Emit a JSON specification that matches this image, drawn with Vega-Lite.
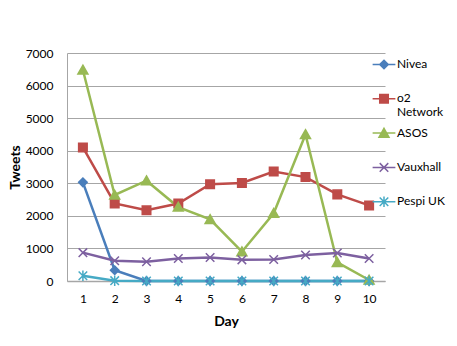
{
  "$schema": "https://vega.github.io/schema/vega-lite/v6.json",
  "width": 318,
  "height": 228,
  "autosize": "none",
  "padding": {"left": 67, "top": 53, "right": 72, "bottom": 65},
  "background": "white",
  "config": {
    "font": "Lato",
    "view": {"stroke": null},
    "axis": {"labelFont": "Lato", "titleFont": "Lato", "labelColor": "black", "titleColor": "black", "labelFontSize": 12, "titleFontSize": 14, "titleFontWeight": "bold"},
    "legend": {"title": null, "orient": "none", "legendX": 311, "legendY": 0, "labelFont": "Lato", "labelFontSize": 12, "labelColor": "black", "symbolSize": 90, "symbolStrokeWidth": 1.5, "labelOffset": 7, "rowPadding": 3.3, "padding": 0, "gridAlign": "all", "labelBaseline": "top"}
  },
  "data": {
    "values": [
      {"day": 1, "brand": "Nivea", "tweets": 3030},
      {"day": 2, "brand": "Nivea", "tweets": 330},
      {"day": 3, "brand": "Nivea", "tweets": 0},
      {"day": 4, "brand": "Nivea", "tweets": 0},
      {"day": 5, "brand": "Nivea", "tweets": 0},
      {"day": 6, "brand": "Nivea", "tweets": 0},
      {"day": 7, "brand": "Nivea", "tweets": 0},
      {"day": 8, "brand": "Nivea", "tweets": 0},
      {"day": 9, "brand": "Nivea", "tweets": 0},
      {"day": 10, "brand": "Nivea", "tweets": 0},
      {"day": 1, "brand": "o2 Network", "tweets": 4100},
      {"day": 2, "brand": "o2 Network", "tweets": 2380},
      {"day": 3, "brand": "o2 Network", "tweets": 2170},
      {"day": 4, "brand": "o2 Network", "tweets": 2380},
      {"day": 5, "brand": "o2 Network", "tweets": 2970},
      {"day": 6, "brand": "o2 Network", "tweets": 3010},
      {"day": 7, "brand": "o2 Network", "tweets": 3360},
      {"day": 8, "brand": "o2 Network", "tweets": 3190},
      {"day": 9, "brand": "o2 Network", "tweets": 2660},
      {"day": 10, "brand": "o2 Network", "tweets": 2320},
      {"day": 1, "brand": "ASOS", "tweets": 6480},
      {"day": 2, "brand": "ASOS", "tweets": 2640},
      {"day": 3, "brand": "ASOS", "tweets": 3080},
      {"day": 4, "brand": "ASOS", "tweets": 2270},
      {"day": 5, "brand": "ASOS", "tweets": 1890},
      {"day": 6, "brand": "ASOS", "tweets": 900},
      {"day": 7, "brand": "ASOS", "tweets": 2080},
      {"day": 8, "brand": "ASOS", "tweets": 4500},
      {"day": 9, "brand": "ASOS", "tweets": 570},
      {"day": 10, "brand": "ASOS", "tweets": 30},
      {"day": 1, "brand": "Vauxhall", "tweets": 870},
      {"day": 2, "brand": "Vauxhall", "tweets": 620},
      {"day": 3, "brand": "Vauxhall", "tweets": 590},
      {"day": 4, "brand": "Vauxhall", "tweets": 690},
      {"day": 5, "brand": "Vauxhall", "tweets": 720},
      {"day": 6, "brand": "Vauxhall", "tweets": 650},
      {"day": 7, "brand": "Vauxhall", "tweets": 660},
      {"day": 8, "brand": "Vauxhall", "tweets": 800},
      {"day": 9, "brand": "Vauxhall", "tweets": 860},
      {"day": 10, "brand": "Vauxhall", "tweets": 690},
      {"day": 1, "brand": "Pespi UK", "tweets": 160},
      {"day": 2, "brand": "Pespi UK", "tweets": 10},
      {"day": 3, "brand": "Pespi UK", "tweets": 0},
      {"day": 4, "brand": "Pespi UK", "tweets": 0},
      {"day": 5, "brand": "Pespi UK", "tweets": 0},
      {"day": 6, "brand": "Pespi UK", "tweets": 0},
      {"day": 7, "brand": "Pespi UK", "tweets": 0},
      {"day": 8, "brand": "Pespi UK", "tweets": 0},
      {"day": 9, "brand": "Pespi UK", "tweets": 0},
      {"day": 10, "brand": "Pespi UK", "tweets": 0}
    ]
  },
  "encoding": {
    "x": {
      "field": "day", "type": "ordinal", "title": "Day",
      "scale": {"type": "point", "padding": 0.5},
      "axis": {"labelAngle": 0, "ticks": false, "domainColor": "#a6a6a6", "domainWidth": 1.5, "labelPadding": 12, "titlePadding": 10}
    },
    "y": {
      "field": "tweets", "type": "quantitative", "title": "Tweets",
      "scale": {"domain": [0, 7000], "nice": false},
      "axis": {"values": [0, 1000, 2000, 3000, 4000, 5000, 6000, 7000], "format": "d", "ticks": false, "grid": true, "gridColor": "#a6a6a6", "gridWidth": 1, "domainColor": "#a6a6a6", "labelPadding": 14, "titlePadding": 3}
    }
  },
  "layer": [
    {
      "mark": {"type": "line", "strokeWidth": 2.5},
      "encoding": {
        "color": {"field": "brand", "type": "nominal", "legend": null,
          "scale": {"domain": ["Nivea", "o2 Network", "ASOS", "Vauxhall", "Pespi UK"], "range": ["#4a7ebb", "#be4b48", "#98b954", "#7d60a0", "#46aac5"]}},
        "order": {"field": "day"}
      }
    },
    {
      "mark": {"type": "point", "filled": true, "size": 90, "strokeWidth": 1.5, "opacity": 1},
      "encoding": {
        "color": {"field": "brand", "type": "nominal", "legend": null,
          "scale": {"domain": ["Nivea", "o2 Network", "ASOS", "Vauxhall", "Pespi UK"], "range": ["#4a7ebb", "#be4b48", "#98b954", "#7d60a0", "#46aac5"]}},
        "stroke": {"field": "brand", "type": "nominal", "legend": null,
          "scale": {"domain": ["Nivea", "o2 Network", "ASOS", "Vauxhall", "Pespi UK"], "range": ["#4a7ebb", "#be4b48", "#98b954", "#7d60a0", "#46aac5"]}},
        "shape": {"field": "brand", "type": "nominal", "legend": null,
          "scale": {"domain": ["Nivea", "o2 Network", "ASOS", "Vauxhall", "Pespi UK"],
            "range": ["M0,-0.9L0.9,0L0,0.9L-0.9,0Z", "M-0.9,-0.9H0.9V0.9H-0.9Z", "M0,-1L1.05,0.85L-1.05,0.85Z", "M-0.9,-0.9L0.9,0.9M-0.9,0.9L0.9,-0.9", "M-0.9,-0.9L0.9,0.9M-0.9,0.9L0.9,-0.9M0,-1.1L0,1.1"]}}
      }
    },
    {
      "transform": [{"filter": "datum.day > 100"}],
      "mark": {"type": "point", "size": 90, "strokeWidth": 1.5, "opacity": 1, "fillOpacity": 1},
      "encoding": {
        "fill": {"field": "brand", "type": "nominal",
          "scale": {"domain": ["Nivea", "o2 Network", "ASOS", "Vauxhall", "Pespi UK"], "range": ["#4a7ebb", "#be4b48", "#98b954", "#7d60a0", "#46aac5"]},
          "legend": {"labelExpr": "datum.label == 'o2 Network' ? ['o2', 'Network'] : [datum.label, ' ']"}},
        "stroke": {"field": "brand", "type": "nominal",
          "scale": {"domain": ["Nivea", "o2 Network", "ASOS", "Vauxhall", "Pespi UK"], "range": ["#4a7ebb", "#be4b48", "#98b954", "#7d60a0", "#46aac5"]},
          "legend": {"labelExpr": "datum.label == 'o2 Network' ? ['o2', 'Network'] : [datum.label, ' ']"}},
        "shape": {"field": "brand", "type": "nominal",
          "scale": {"domain": ["Nivea", "o2 Network", "ASOS", "Vauxhall", "Pespi UK"],
            "range": ["M-2.4,1.16H2.4M0,0.26L0.9,1.16L0,2.06L-0.9,1.16Z", "M-2.4,1.16H2.4M-0.9,0.26H0.9V2.06H-0.9Z", "M-2.4,1.16H2.4M0,0.16L1.05,2.01L-1.05,2.01Z", "M-2.4,1.16H2.4M-0.9,0.26L0.9,2.06M-0.9,2.06L0.9,0.26", "M-2.4,1.16H2.4M-0.9,0.26L0.9,2.06M-0.9,2.06L0.9,0.26M0,0.06L0,2.26"]},
          "legend": {"labelExpr": "datum.label == 'o2 Network' ? ['o2', 'Network'] : [datum.label, ' ']"}
        }
      }
    }
  ],
  "resolve": {"scale": {"shape": "independent", "color": "independent", "stroke": "independent", "fill": "independent"}}
}
